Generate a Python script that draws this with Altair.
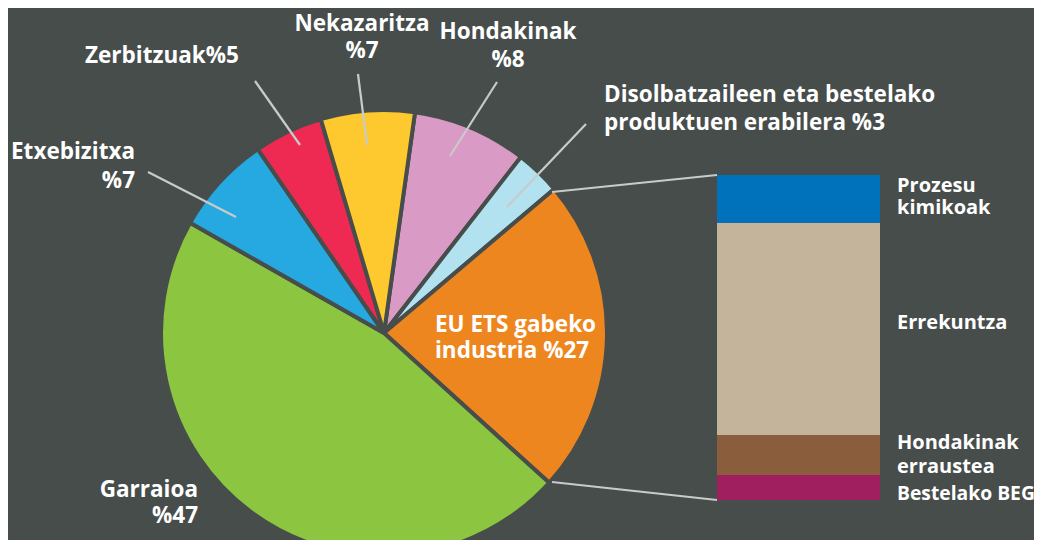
import math
import altair as alt
import pandas as pd

# ---------------- data ----------------
pie_categories = ["Hondakinak", "Disolbatzaileen eta bestelako produktuen erabilera",
                  "EU ETS gabeko industria", "Garraioa", "Etxebizitza",
                  "Zerbitzuak", "Nekazaritza"]
pie_values = [8.3, 3.3, 22.9, 46.5, 7.2, 5.0, 6.8]          # drawn shares (%)
pie_colors = ["#d99bc5", "#b2e1f0", "#ee861f", "#8cc540", "#26a9e0", "#ee2a53", "#fec82f"]

bar_categories = ["Bestelako BEG", "Hondakinak erraustea", "Errekuntza", "Prozesu kimikoak"]
bar_values = [7.7, 12.3, 65.3, 14.7]                         # bottom -> top
bar_colors = ["#a01f5e", "#8a5e3c", "#c4b49b", "#0071bb"]

label_lines = [
    ["Nekazaritza", "%7"],
    ["Hondakinak", "%8"],
    ["Zerbitzuak%5"],
    ["Etxebizitxa", "%7"],
    ["Disolbatzaileen eta bestelako", "produktuen erabilera %3"],
    ["EU ETS gabeko", "industria %27"],
    ["Garraioa", "%47"],
]
bar_label_lines = [["Prozesu", "kimikoak"], ["Errekuntza"], ["Hondakinak", "erraustea"], ["Bestelako BEG"]]

# ---------------- layout (reference pixel coords) ----------------
OX, OY = 8, 8
W, H = 1026, 532
BG = "#474d4b"
FONT = "Open Sans"
CX, CY, R = 384, 333, 223
START_DEG = 8.0
BAR_X0, BAR_X1, BAR_TOP, BAR_BOT = 717, 880, 175, 500
PIE_FS = 22.5

label_pos = [  # (x, first baseline, line step, align)
    (362, 31, 27, "center"),
    (508, 38.5, 28, "center"),
    (85, 63.3, 28, "left"),
    (135, 159.3, 29, "right"),
    (604, 101.7, 28, "left"),
    (435, 331.5, 26.8, "left"),
    (198, 496.7, 26.6, "right"),
]
bar_label_pos = [(897, 191.7, 22.5, 20), (897, 329.3, 23, 20), (897, 448.7, 24, 20), (897, 500, 23, 19.3)]

leader_segments = [
    (148, 172, 236, 217),
    (255, 81, 300, 145),
    (358, 74, 367, 145),
    (497, 82, 450, 156),
    (586, 124, 507, 207),
    (552, 192, 717, 175),
    (552, 482, 717, 500),
]

# ---------------- tables ----------------
pie_df = pd.DataFrame({"cat": pie_categories, "value": pie_values,
                       "order": list(range(len(pie_values)))})
bar_df = pd.DataFrame({"cat": bar_categories, "value": bar_values,
                       "order": list(range(len(bar_values)))})

rows = []
for lines, (x, y0, step, al) in zip(label_lines, label_pos):
    for i, t in enumerate(lines):
        rows.append({"t": t, "x": x - OX, "y": y0 + i * step - OY, "al": al, "fs": PIE_FS})
for lines, (x, y0, step, fs) in zip(bar_label_lines, bar_label_pos):
    for i, t in enumerate(lines):
        rows.append({"t": t, "x": x - OX, "y": y0 + i * step - OY, "al": "left", "fs": fs})
text_df = pd.DataFrame(rows)

seg_df = pd.DataFrame([{"x": a - OX, "y": b - OY, "x2": c - OX, "y2": d - OY}
                       for a, b, c, d in leader_segments])

start = math.radians(START_DEG)

pie = alt.Chart(pie_df).mark_arc(
    radius=R, stroke=BG, strokeWidth=4, strokeJoin="bevel"
).encode(
    theta=alt.Theta("value:Q", stack=True,
                    scale=alt.Scale(domain=[0, 100], range=[start, start + 2 * math.pi])),
    color=alt.Color("cat:N", scale=alt.Scale(domain=pie_categories, range=pie_colors), legend=None),
    order=alt.Order("order:Q"),
    x=alt.value(CX - OX),
    y=alt.value(CY - OY),
)

bar = alt.Chart(bar_df).transform_stack(
    stack="value", as_=["v0", "v1"], groupby=[], sort=[alt.SortField("order", order="ascending")]
).mark_rect().encode(
    x=alt.value(BAR_X0 - OX),
    x2=alt.value(BAR_X1 - OX),
    y=alt.Y("v0:Q", axis=None,
            scale=alt.Scale(domain=[0, 100], range=[BAR_BOT - OY, BAR_TOP - OY])),
    y2="v1:Q",
    color=alt.Color("cat:N", scale=alt.Scale(domain=bar_categories, range=bar_colors), legend=None),
)

lines = alt.Chart(seg_df).mark_rule(color="#c9cbca", strokeWidth=2.2).encode(
    x=alt.X("x:Q", scale=None, axis=None),
    y=alt.Y("y:Q", scale=None, axis=None),
    x2="x2:Q",
    y2="y2:Q",
)

def text_layer(al):
    return alt.Chart(text_df).transform_filter(alt.datum.al == al).mark_text(
        align=al, baseline="alphabetic", font=FONT, fontWeight="bold", color="#ffffff"
    ).encode(
        x=alt.X("x:Q", scale=None, axis=None),
        y=alt.Y("y:Q", scale=None, axis=None),
        text="t:N",
        size=alt.Size("fs:Q", scale=None, legend=None),
    )

chart = alt.layer(
    pie, bar, lines, text_layer("left"), text_layer("center"), text_layer("right")
).resolve_scale(
    x="independent", y="independent", color="independent", theta="independent"
).properties(
    width=W, height=H, background=BG, padding=0,
    autosize=alt.AutoSizeParams(type="none")
).configure_view(stroke=None)

chart.save("out.html", embed_options={"renderer": "svg", "actions": False})
